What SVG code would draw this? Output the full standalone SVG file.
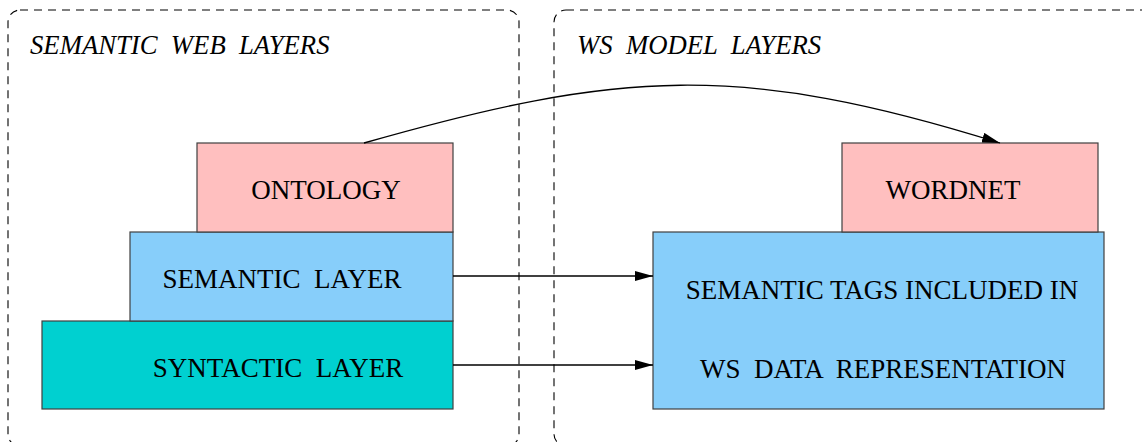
<svg xmlns="http://www.w3.org/2000/svg" width="1142" height="442" viewBox="0 0 1142 442">
<style>
.frame{fill:none;stroke:#000;stroke-width:1.1;stroke-dasharray:8,6}
.box{stroke:#404040;stroke-width:1.2}
.lbl{font-family:"Liberation Serif","Times New Roman",serif;font-size:27px;fill:#000}
.ttl{font-family:"Liberation Serif","Times New Roman",serif;font-size:26.7px;font-style:italic;fill:#000}
.conn{fill:none;stroke:#000;stroke-width:1.3}
</style>
<defs>
<marker id="ah" markerWidth="18" markerHeight="10" refX="18" refY="5" orient="auto" markerUnits="userSpaceOnUse">
<path d="M0,0 L18,5 L0,10 Z" fill="#000"/>
</marker>
</defs>
<g id="frame-left">
<rect class="frame" x="8" y="10" width="511" height="436" rx="12"/>
<text class="ttl" x="30" y="54" xml:space="preserve">SEMANTIC  WEB  LAYERS</text>
</g>
<g id="frame-right">
<rect class="frame" x="554" y="10" width="620" height="436" rx="12"/>
<text class="ttl" x="577" y="54" xml:space="preserve">WS  MODEL  LAYERS</text>
</g>
<g id="syntactic">
<rect class="box" x="42" y="321" width="411" height="88" fill="#00d0d0"/>
<text class="lbl" x="278" y="377" text-anchor="middle" xml:space="preserve">SYNTACTIC  LAYER</text>
</g>
<g id="semantic">
<rect class="box" x="130" y="232" width="323" height="89" fill="#87cefa"/>
<text class="lbl" x="282" y="288" text-anchor="middle" xml:space="preserve">SEMANTIC  LAYER</text>
</g>
<g id="ontology">
<rect class="box" x="197" y="143" width="256" height="89" fill="#ffbfbf"/>
<text class="lbl" x="326" y="199" text-anchor="middle">ONTOLOGY</text>
</g>
<g id="ws-data">
<rect class="box" x="653" y="232" width="451" height="177" fill="#87cefa"/>
<text class="lbl" x="882" y="299" text-anchor="middle">SEMANTIC TAGS INCLUDED IN</text>
<text class="lbl" x="883" y="378" text-anchor="middle" xml:space="preserve">WS  DATA  REPRESENTATION</text>
</g>
<g id="wordnet">
<rect class="box" x="842" y="143" width="256" height="89" fill="#ffbfbf"/>
<text class="lbl" x="953" y="199" text-anchor="middle">WORDNET</text>
</g>
<g id="connectors">
<path class="conn" d="M364,143 C620,70 740,62 1000,143" marker-end="url(#ah)"/>
<line class="conn" x1="453" y1="276" x2="653" y2="276" marker-end="url(#ah)"/>
<line class="conn" x1="453" y1="365" x2="653" y2="365" marker-end="url(#ah)"/>
</g>
</svg>
